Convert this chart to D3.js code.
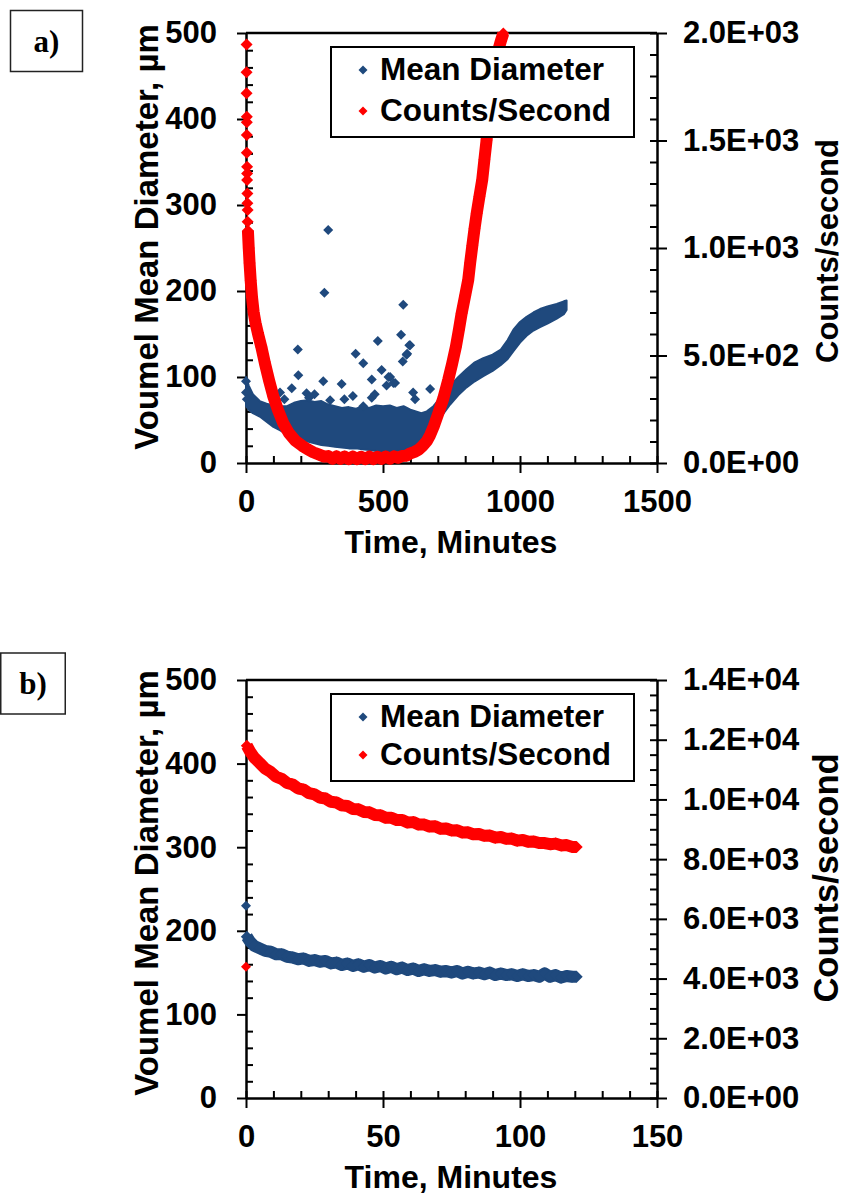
<!DOCTYPE html>
<html><head><meta charset="utf-8">
<script src="https://cdn.jsdelivr.net/npm/d3@7"></script>
<style>
html,body{margin:0;padding:0;background:#fff;}
svg{display:block;}
</style></head><body>
<svg id="c" width="846" height="1199"></svg>
<script>
// ---------------- DATA: panel a ----------------
const aXTicks = [0, 500, 1000, 1500];
const aXTickLabels = ['0', '500', '1000', '1500'];
const aYTicks = [0, 100, 200, 300, 400, 500];
const aYTickLabels = ['0', '100', '200', '300', '400', '500'];
const aRTicks = [0, 500, 1000, 1500, 2000];
const aRTickLabels = ['0.0E+00', '5.0E+02', '1.0E+03', '1.5E+03', '2.0E+03'];

// Mean diameter (dense cloud): time, lower and upper edge of the cloud
const aDiamTime = [0,10,25,50,75,100,125,150,175,200,225,250,275,300,325,350,375,400,425,450,475,500,525,550,575,600,620,640,660,684,715,745,775,805,835,866,900,930,955,976,1000,1024,1049,1073,1100,1134,1160,1170];
const aDiamLow  = [66,62,58,54,48,42,38,33,30,27,25,23,21,20,19,18,17,17,16,15,14,14,13,14,15,16,20,27,34,42,55,68,79,88,95,101,107,114,121,130,140,148,154,158,162,168,173,178];
const aDiamHigh = [100,90,80,72,69,67,66,66,70,72,73,71,72,68,66,64,65,63,66,64,67,66,67,64,66,62,60,58,60,66,78,90,100,109,117,122,126,132,143,155,164,170,175,179,182,185,188,189];
// Mean diameter: scattered individual points
const aDiamPtTime = [300,286,574,189,481,566,596,588,572,400,428,495,191,459,526,544,513,282,349,672,167,124,221,459,617,359,307,428,250,538,520,599,586,140,0,0,3,230,390,470,610];
const aDiamPtVal  = [271,198,184,132,142,149,137,127,118,127,116,108,102,97,100,93,90,95,92,86,87,82,81,76,74,74,73,66,80,93,100,137,126,74,95,82,74,76,78,80,82];

// Counts/second: first isolated readings near t = 0
const aCountEarlyTime = [2,2,2,3,3,3,3,4,4,4,5,5,6,6];
const aCountEarlyVal  = [1947,1817,1720,1611,1585,1526,1443,1378,1347,1316,1254,1208,1177,1122];
// Counts/second: continuous series
const aCountTime = [7,10,13,17,22,28,35,44,56,69,84,100,117,136,156,179,205,225,245,265,285,300,315,330,345,360,375,390,405,420,435,450,465,480,495,510,525,540,555,570,585,600,615,630,645,660,672,685,702,720,738,752,766,777,787,800,811,818,826,834,842,852,862,870,878,888,897,909,921,930,939];
const aCountVal  = [1080,1000,930,850,770,700,650,600,540,464,385,308,245,185,140,105,80,64,50,40,30,32,20,31,19,30,18,30,18,29,18,30,18,29,19,30,20,31,24,33,34,45,52,62,80,102,130,170,231,300,386,460,541,620,696,780,851,930,1010,1090,1161,1240,1316,1410,1502,1640,1766,1860,1921,1962,1998];

// ---------------- DATA: panel b ----------------
const bXTicks = [0, 50, 100, 150];
const bXTickLabels = ['0', '50', '100', '150'];
const bYTicks = [0, 100, 200, 300, 400, 500];
const bYTickLabels = ['0', '100', '200', '300', '400', '500'];
const bRTicks = [0, 2000, 4000, 6000, 8000, 10000, 12000, 14000];
const bRTickLabels = ['0.0E+00', '2.0E+03', '4.0E+03', '6.0E+03', '8.0E+03', '1.0E+04', '1.2E+04', '1.4E+04'];

const bDiamStartTime = [0];
const bDiamStartVal  = [230];
const bDiamTime = [0.3,1.5,3,5,7,9,11,13,15,17,19,21,23,25,27,29,31,33,35,37,39,41,43,45,47,49,51,53,55,57,59,61,63,65,67,69,71,73,75,77,79,81,83,85,87,89,91,93,95,97,99,101,103,105,107,109,111,113,115,117,119,120.7];
const bDiamVal  = [193,187,182,179,176,175,172,172,169,168,166,167,164,165,163,164,161,162,159,161,158,160,157,159,156,158,155,157,154,156,153,155,152,154,152,153,151,152,150,152,149,151,149,150,148,150,147,149,147,148,146,148,146,147,145,149,145,147,144,146,145,145];

const bCountStartTime = [0];
const bCountStartVal  = [4400];
const bCountTime = [0.3,1.5,3,5,7,9,11,13,15,17,19,21,23,25,27,29,31,33,35,37,39,41,43,45,47,49,51,53,55,57,59,61,63,65,67,69,71,73,75,77,79,81,83,85,87,89,91,93,95,97,99,101,103,105,107,109,111,113,115,117,119,120.7];
const bCountVal  = [11800,11600,11400,11220,11030,10920,10760,10690,10550,10500,10370,10330,10210,10170,10060,10030,9920,9900,9800,9780,9680,9670,9580,9570,9480,9470,9390,9390,9310,9310,9230,9240,9160,9160,9090,9100,9020,9030,8960,8970,8890,8900,8830,8840,8780,8790,8720,8740,8680,8690,8620,8640,8580,8590,8540,8540,8500,8520,8460,8470,8410,8410];

// ---------------- DRAWING ----------------
const BLUE = '#1F497D', RED = '#FF0000';
const FONT = '"Liberation Sans", Arial, Helvetica, sans-serif';
const svg = d3.select('#c');
const diamondType = { draw(ctx, size) { const r = Math.sqrt(size) / 2; ctx.moveTo(0, -r); ctx.lineTo(r, 0); ctx.lineTo(0, r); ctx.lineTo(-r, 0); ctx.closePath(); } };
const sym = r => d3.symbol().type(diamondType).size((2 * r) * (2 * r))();

function styleAxis(sel, fs) {
  sel.attr('font-family', FONT).attr('font-size', fs).attr('font-weight', 'bold');
  sel.selectAll('.tick line').attr('stroke', '#000').attr('stroke-width', 2);
  sel.selectAll('.tick text').attr('fill', '#000');
}

function panel(o) {
  const g = svg.append('g');
  const x = d3.scaleLinear().domain([0, o.xMax]).range([246, 657]);
  const yL = d3.scaleLinear().domain([0, 500]).range([o.bottom, o.top]);
  const yR = d3.scaleLinear().domain([0, o.rMax]).range([o.bottom, o.top]);

  // minor ticks (inside)
  g.append('g').attr('transform', `translate(0,${o.bottom})`)
    .call(d3.axisBottom(x).tickValues(d3.range(0, o.xMax + 1e-6, o.xMinor)).tickSize(-7).tickSizeOuter(0).tickFormat(() => ''))
    .call(s => { s.select('.domain').remove(); styleAxis(s, 10); });
  g.append('g').attr('transform', `translate(246,0)`)
    .call(d3.axisLeft(yL).tickValues(d3.range(0, 501, 20).filter(v => v % 100 !== 0)).tickSize(-7).tickSizeOuter(0).tickFormat(() => ''))
    .call(s => { s.select('.domain').remove(); styleAxis(s, 10); });
  g.append('g').attr('transform', `translate(657,0)`)
    .call(d3.axisRight(yR).tickValues(d3.range(0, o.rMax + 1e-6, o.rMinor)).tickSize(-7).tickSizeOuter(0).tickFormat(() => ''))
    .call(s => { s.select('.domain').remove(); styleAxis(s, 10); });

  // major axes
  g.append('g').attr('transform', `translate(0,${o.bottom})`)
    .call(d3.axisBottom(x).tickValues(o.xTicks).tickSize(10).tickSizeOuter(0).tickPadding(17).tickFormat((d, i) => o.xLabels[i]))
    .call(s => { styleAxis(s, 31); s.select('.domain').attr('stroke', '#000').attr('stroke-width', 2.5); });
  g.append('g').attr('transform', `translate(246,0)`)
    .call(d3.axisLeft(yL).tickValues(o.yTicks).tickSize(9).tickSizeOuter(0).tickPadding(20).tickFormat((d, i) => o.yLabels[i]))
    .call(s => { styleAxis(s, 31); s.select('.domain').attr('stroke', '#000').attr('stroke-width', 2.5); });
  g.append('g').attr('transform', `translate(657,0)`)
    .call(d3.axisRight(yR).tickValues(o.rTicks).tickSize(10).tickSizeOuter(0).tickPadding(16).tickFormat((d, i) => o.rLabels[i]))
    .call(s => { styleAxis(s, 31); s.select('.domain').attr('stroke', '#000').attr('stroke-width', 2.5); });
  // top frame
  g.append('line').attr('x1', x(0)).attr('x2', x(o.xMax)).attr('y1', o.top).attr('y2', o.top)
    .attr('stroke', '#000').attr('stroke-width', 2.5);

  // titles
  g.append('text').attr('x', 451).attr('y', o.bottom + 90).attr('text-anchor', 'middle')
    .attr('font-family', FONT).attr('font-weight', 'bold').attr('font-size', 32).text('Time, Minutes');
  g.append('text').attr('transform', `translate(158,${o.lTitleY}) rotate(-90)`).attr('text-anchor', 'middle')
    .attr('font-family', FONT).attr('font-weight', 'bold').attr('font-size', 33).text('Voumel Mean Diameter, µm');
  g.append('text').attr('transform', `translate(838,${o.rTitleY}) rotate(-90)`).attr('text-anchor', 'middle')
    .attr('font-family', FONT).attr('font-weight', 'bold').attr('font-size', o.rTitleSize).text('Counts/second');

  // panel label
  g.append('rect').attr('x', o.lab.x).attr('y', o.lab.y).attr('width', o.lab.w).attr('height', o.lab.h)
    .attr('fill', '#fff').attr('stroke', '#222').attr('stroke-width', 1.5);
  g.append('text').attr('x', o.lab.x + o.lab.w / 2).attr('y', o.lab.y + 41).attr('text-anchor', 'middle')
    .attr('font-family', '"Liberation Serif", "Times New Roman", serif').attr('font-weight', 'bold').attr('font-size', 31).text(o.lab.t);

  // data layer (below legend)
  const data = g.append('g');

  // legend
  const lg = g.append('g');
  lg.append('rect').attr('x', 331).attr('y', o.top + 14).attr('width', 303).attr('height', o.legH)
    .attr('fill', '#fff').attr('stroke', '#000').attr('stroke-width', 2);
  [['Mean Diameter', BLUE, o.top + 37], ['Counts/Second', RED, o.top + o.legH - 12]].forEach(([t, c, yy]) => {
    lg.append('path').attr('d', sym(4.5)).attr('transform', `translate(363,${yy})`).attr('fill', c);
    lg.append('text').attr('x', 380).attr('y', yy + 10).attr('font-family', FONT).attr('font-weight', 'bold')
      .attr('font-size', 31.5).attr('fill', '#000').text(t);
  });

  return { g, data, x, yL, yR };
}

function markers(g, xs, ys, xsc, ysc, color, r) {
  g.append('g').selectAll('path').data(d3.zip(xs, ys)).join('path')
    .attr('d', sym(r)).attr('transform', d => `translate(${xsc(d[0])},${ysc(d[1])})`).attr('fill', color);
}
function band(g, xs, ys, xsc, ysc, color, w) {
  g.append('path').datum(d3.zip(xs, ys))
    .attr('d', d3.line().x(d => xsc(d[0])).y(d => ysc(d[1])))
    .attr('fill', 'none').attr('stroke', color).attr('stroke-width', w).attr('stroke-linejoin', 'round');
}

// ---- panel a ----
const A = panel({ xMax: 1500, xMinor: 100, rMax: 2000, rMinor: 100, top: 33, bottom: 463,
  xTicks: aXTicks, xLabels: aXTickLabels, yTicks: aYTicks, yLabels: aYTickLabels, rTicks: aRTicks, rLabels: aRTickLabels,
  lTitleY: 237, rTitleY: 251, rTitleSize: 31, legH: 90, lab: { x: 10.5, y: 10.5, w: 72, h: 61, t: 'a)' } });
const aData = A.data;
aData.append('path').datum(d3.zip(aDiamTime, aDiamLow, aDiamHigh))
  .attr('d', d3.area().x(d => A.x(d[0])).y0(d => A.yL(d[1])).y1(d => A.yL(d[2])))
  .attr('fill', BLUE).attr('stroke', BLUE).attr('stroke-width', 2).attr('stroke-linejoin', 'round');
markers(aData, aDiamPtTime, aDiamPtVal, A.x, A.yL, BLUE, 5);
band(aData, aCountTime, aCountVal, A.x, A.yR, RED, 12);
markers(aData, aCountTime, aCountVal, A.x, A.yR, RED, 6);
markers(aData, aCountEarlyTime, aCountEarlyVal, A.x, A.yR, RED, 6);

// ---- panel b ----
const B = panel({ xMax: 150, xMinor: 10, rMax: 14000, rMinor: 500, top: 680, bottom: 1098,
  xTicks: bXTicks, xLabels: bXTickLabels, yTicks: bYTicks, yLabels: bYTickLabels, rTicks: bRTicks, rLabels: bRTickLabels,
  lTitleY: 883, rTitleY: 878, rTitleSize: 34.5, legH: 87, lab: { x: 0.75, y: 653, w: 64.5, h: 61, t: 'b)' } });
const bData = B.data;
markers(bData, bDiamStartTime, bDiamStartVal, B.x, B.yL, BLUE, 5);
band(bData, bDiamTime, bDiamVal, B.x, B.yL, BLUE, 12);
markers(bData, bDiamTime, bDiamVal, B.x, B.yL, BLUE, 6);
markers(bData, bCountStartTime, bCountStartVal, B.x, B.yR, RED, 5);
band(bData, bCountTime, bCountVal, B.x, B.yR, RED, 12);
markers(bData, bCountTime, bCountVal, B.x, B.yR, RED, 6);
</script>
</body></html>
